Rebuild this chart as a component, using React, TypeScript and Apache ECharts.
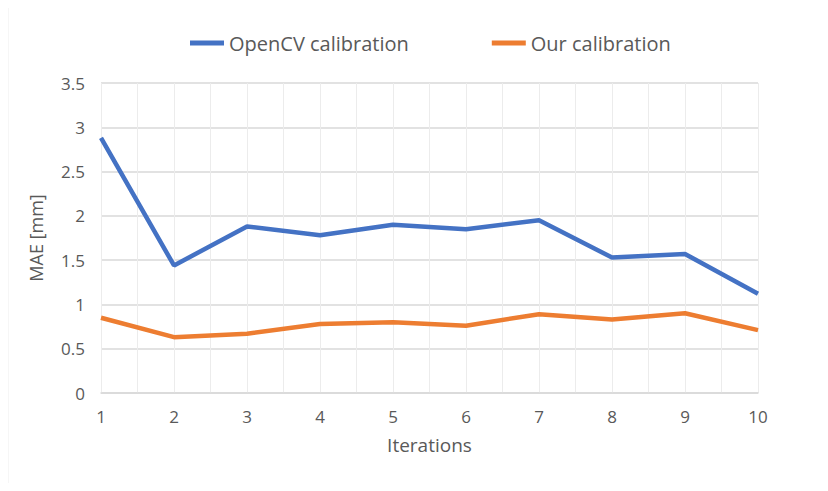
import React, { useEffect, useRef } from "react";
import * as echarts from "echarts";

const iterations = [1, 2, 3, 4, 5, 6, 7, 8, 9, 10];
const openCV = [2.88, 1.44, 1.88, 1.78, 1.9, 1.85, 1.95, 1.53, 1.57, 1.12];
const ours = [0.85, 0.63, 0.67, 0.78, 0.8, 0.76, 0.89, 0.83, 0.9, 0.71];
const seriesNames = ["OpenCV calibration", "Our calibration"];

const FONT = "'Open Sans', 'Noto Sans', sans-serif";

export default function App() {
  const ref = useRef<HTMLDivElement>(null);
  useEffect(() => {
    if (!ref.current) return;
    const chart = echarts.init(ref.current, null, { renderer: "svg" });
    chart.setOption({
      animation: false,
      backgroundColor: "#ffffff",
      textStyle: { fontFamily: FONT },
      graphic: [
        {
          type: "line",
          shape: { x1: 7.5, y1: 4.5, x2: 828, y2: 4.5 },
          style: { stroke: "#d9d9d9", lineWidth: 1.5 },
          silent: true,
        },
        {
          type: "line",
          shape: { x1: 7.5, y1: 4.5, x2: 7.5, y2: 491 },
          style: { stroke: "#d9d9d9", lineWidth: 1.5 },
          silent: true,
        },
      ],
      legend: {
        top: 28,
        left: 185,
        itemGap: 83,
        itemWidth: 34,
        itemHeight: 5,
        icon: "rect",
        textStyle: { fontSize: 20, color: "#595959", fontFamily: FONT },
        data: seriesNames,
      },
      grid: { left: 101, right: 70, top: 83, bottom: 98, containLabel: false },
      xAxis: {
        type: "value",
        min: 1,
        max: 10,
        interval: 1,
        name: "Iterations",
        nameLocation: "middle",
        nameGap: 42,
        nameTextStyle: { fontSize: 19, color: "#595959", fontFamily: FONT },
        axisLine: { show: true, lineStyle: { color: "#d9d9d9", width: 1.5 } },
        axisTick: { show: false },
        axisLabel: { fontSize: 17, color: "#595959", margin: 15, fontFamily: FONT },
        splitLine: { show: true, lineStyle: { color: "#ececec", width: 1 } },
        minorTick: { show: false, splitNumber: 2 },
        minorSplitLine: { show: true, lineStyle: { color: "#ececec", width: 1 } },
      },
      yAxis: {
        type: "value",
        min: 0,
        max: 3.5,
        interval: 0.5,
        name: "MAE [mm]",
        nameLocation: "middle",
        nameGap: 56,
        nameTextStyle: { fontSize: 18, color: "#595959", fontFamily: FONT },
        axisLine: { show: false },
        axisTick: { show: false },
        axisLabel: { fontSize: 17, color: "#595959", margin: 16, fontFamily: FONT },
        splitLine: { show: true, lineStyle: { color: "#d9d9d9", width: 1.5 } },
      },
      series: [
        {
          name: seriesNames[0],
          type: "line",
          data: iterations.map((x, i) => [x, openCV[i]]),
          showSymbol: false,
          symbol: "none",
          lineStyle: { color: "#4472C4", width: 4.5 },
          itemStyle: { color: "#4472C4" },
        },
        {
          name: seriesNames[1],
          type: "line",
          data: iterations.map((x, i) => [x, ours[i]]),
          showSymbol: false,
          symbol: "none",
          lineStyle: { color: "#ED7D31", width: 4.5 },
          itemStyle: { color: "#ED7D31" },
        },
      ],
    });
    return () => chart.dispose();
  }, []);
  return <div ref={ref} style={{ width: 828, height: 491, margin: -8 }} />;
}
